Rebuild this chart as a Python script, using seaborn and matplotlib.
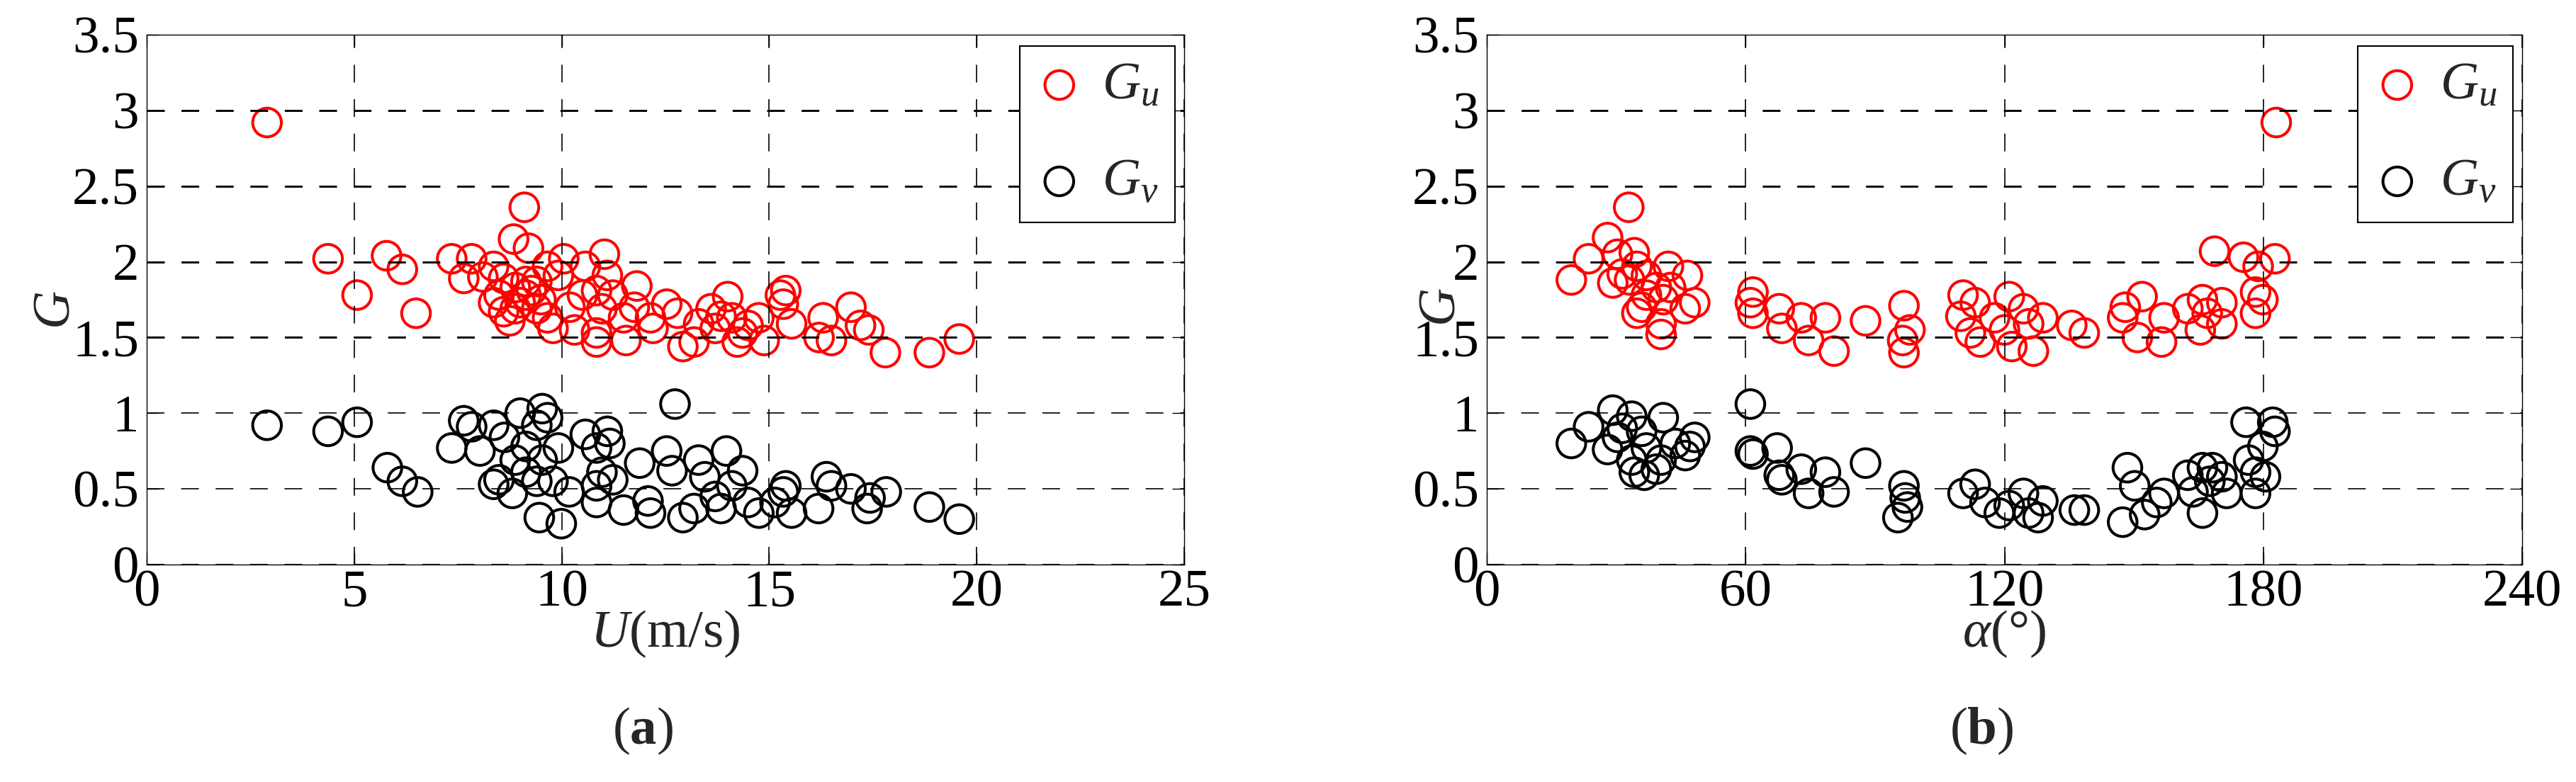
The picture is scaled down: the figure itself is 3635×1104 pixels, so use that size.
import matplotlib
matplotlib.use("Agg")
import matplotlib.pyplot as plt
import matplotlib.ticker as mticker
import seaborn as sns

# ---- values ----
# (a) G_u against wind speed U
u_red = [2.9, 4.37, 5.78, 6.16, 5.07, 6.49, 7.35, 7.83, 7.64, 8.1, 8.36, 8.6, 8.84, 9.1,
         9.2, 8.88, 9.14, 8.36, 8.75, 9.4, 9.66, 10.05, 9.92, 9.4, 9.79, 9.66, 10.31, 10.57,
         11.03, 11.1, 10.84, 11.23, 10.97, 10.84, 10.84, 11.49, 11.55, 11.81, 11.75, 12.2,
         12.14, 12.53, 12.79, 12.92, 13.19, 13.3, 13.6, 13.7, 13.84, 14.0, 14.1, 14.36,
         14.23, 14.49, 14.75, 14.88, 15.27, 15.34, 15.4, 15.54, 16.3, 16.2, 16.5, 16.97,
         17.2, 17.4, 17.8, 18.86, 19.58, 8.49, 9.0, 9.27, 8.88, 9.14, 8.6, 9.5, 10.2, 10.5]
gu_a = [2.92, 2.02, 2.04, 1.95, 1.78, 1.66, 2.02, 2.02, 1.89, 1.90, 1.97, 1.89, 2.15, 2.36,
        2.09, 1.83, 1.78, 1.73, 1.61, 1.87, 1.97, 2.02, 1.91, 1.69, 1.56, 1.63, 1.55, 1.97,
        2.05, 1.91, 1.81, 1.78, 1.69, 1.47, 1.53, 1.63, 1.48, 1.84, 1.70, 1.56,
        1.63, 1.72, 1.66, 1.44, 1.47, 1.59, 1.69, 1.56, 1.64, 1.77, 1.63, 1.53,
        1.47, 1.58, 1.63, 1.48, 1.78, 1.72, 1.81, 1.59, 1.63, 1.50, 1.48, 1.70,
        1.58, 1.55, 1.40, 1.40, 1.49, 1.78, 1.73, 1.81, 1.69, 1.87, 1.67, 1.75, 1.70, 1.78]

# (a) G_v against wind speed U
u_black = [2.9, 4.37, 5.07, 5.8, 6.16, 6.53, 7.64, 7.83, 7.35, 8.03, 8.36, 8.62, 9.0, 9.53,
           9.66, 9.4, 9.14, 8.88, 8.49, 8.36, 8.81, 9.14, 9.53, 9.92, 9.79, 9.4, 9.46, 9.99,
           10.18, 10.57, 10.84, 11.1, 11.16, 10.97, 10.84, 10.84, 11.23, 11.49, 11.88, 12.08,
           12.14, 12.53, 12.66, 12.73, 12.92, 13.19, 13.3, 13.45, 13.7, 13.84, 13.97, 14.1,
           14.36, 14.49, 14.75, 15.14, 15.34, 15.4, 15.54, 16.19, 16.38, 16.5, 16.97, 17.36,
           17.43, 17.82, 18.86, 19.58]
gv_a = [0.92, 0.88, 0.94, 0.64, 0.55, 0.48, 0.95, 0.91, 0.77, 0.75, 0.92, 0.84, 1.00, 1.03,
        0.97, 0.92, 0.78, 0.69, 0.56, 0.53, 0.47, 0.61, 0.69, 0.77, 0.55, 0.55, 0.31, 0.27,
        0.48, 0.86, 0.77, 0.88, 0.80, 0.61, 0.52, 0.41, 0.56, 0.36, 0.67, 0.42,
        0.34, 0.75, 0.62, 1.06, 0.31, 0.37, 0.69, 0.58, 0.45, 0.37, 0.75, 0.52,
        0.62, 0.41, 0.34, 0.41, 0.48, 0.52, 0.34, 0.37, 0.58, 0.52, 0.50, 0.37,
        0.44, 0.48, 0.38, 0.30]

# (b) G_u against wind direction alpha
a_red = [32.9, 28.0, 23.6, 19.6, 30.3, 34.2, 34.8, 31.4, 29.2, 33.1, 37.0, 42.1, 39.3, 46.5,
         48.2, 42.6, 35.9, 40.9, 34.8, 40.4, 40.4, 46.0, 37.0, 61.7, 61.1, 61.7, 67.8, 68.4,
         72.9, 74.6, 78.5, 80.5, 87.8, 96.7, 96.4, 98.1, 96.7, 110.4, 113.2, 109.9, 112.1,
         114.4, 117.7, 121.1, 120.0, 121.7, 124.4, 125.6, 126.7, 128.9, 135.6, 138.5, 148.0,
         151.9, 147.4, 150.8, 157.0, 156.4, 162.5, 165.9, 167.0, 165.4, 170.4, 170.4, 168.7,
         175.4, 178.8, 182.7, 178.2, 179.9, 178.2, 183.0]
gu_b = [2.36, 2.16, 2.02, 1.88, 2.05, 2.06, 1.97, 1.92, 1.86, 1.88, 1.91, 1.97, 1.83, 1.91,
        1.73, 1.83, 1.70, 1.75, 1.66, 1.59, 1.52, 1.69, 1.78, 1.80, 1.73, 1.66, 1.69, 1.56,
        1.63, 1.48, 1.63, 1.41, 1.61, 1.71, 1.48, 1.55, 1.40, 1.78, 1.73, 1.64, 1.53,
        1.47, 1.63, 1.77, 1.55, 1.44, 1.69, 1.59, 1.41, 1.63, 1.58, 1.53, 1.70,
        1.77, 1.63, 1.50, 1.63, 1.47, 1.69, 1.75, 1.66, 1.55, 1.59, 1.73, 2.07,
        2.03, 1.97, 2.02, 1.80, 1.75, 1.66, 2.92]

# (b) G_v against wind direction alpha
a_black = [19.6, 23.6, 29.2, 33.6, 40.9, 31.4, 28.0, 30.3, 35.9, 37.0, 34.2, 36.5, 39.3, 33.6,
           40.4, 47.1, 48.2, 46.0, 43.7, 61.1, 61.7, 61.1, 67.3, 67.8, 68.4, 72.9, 74.6, 78.5,
           80.5, 87.8, 96.7, 97.0, 95.3, 97.5, 110.4, 113.2, 115.5, 118.8, 121.1, 124.4, 125.6,
           127.8, 128.9, 136.2, 138.5, 147.4, 148.5, 150.2, 152.5, 157.0, 155.3, 162.5, 165.9,
           167.6, 165.9, 163.7, 170.4, 168.2, 171.5, 176.0, 182.2, 182.7, 179.9, 178.2, 180.5,
           178.2, 176.6]
gv_b = [0.80, 0.91, 1.02, 0.98, 0.97, 0.90, 0.76, 0.84, 0.88, 0.77, 0.61, 0.59, 0.63, 0.69,
        0.69, 0.78, 0.84, 0.72, 0.80, 1.06, 0.73, 0.75, 0.77, 0.59, 0.56, 0.63, 0.47, 0.61,
        0.48, 0.67, 0.52, 0.44, 0.31, 0.38, 0.47, 0.53, 0.41, 0.34, 0.39, 0.47, 0.34,
        0.31, 0.42, 0.36, 0.36, 0.28, 0.64, 0.52, 0.33, 0.47, 0.41, 0.59, 0.64,
        0.55, 0.34, 0.48, 0.58, 0.64, 0.47, 0.94, 0.94, 0.88, 0.78, 0.61, 0.58,
        0.47, 0.69]

y_ticks = [0, 0.5, 1, 1.5, 2, 2.5, 3, 3.5]

FS = 54          # font size, pt
MS = 850         # marker area, pt^2

sns.set_style("white")
plt.rcParams["font.family"] = ["Liberation Serif", "DejaVu Serif"]
plt.rcParams["mathtext.fontset"] = "custom"
plt.rcParams["mathtext.rm"] = "Liberation Serif"
plt.rcParams["mathtext.it"] = "Liberation Serif:italic"
plt.rcParams["mathtext.bf"] = "Liberation Serif:bold"
plt.rcParams["lines.scale_dashes"] = False


def panel(ax, xr, yr, xb, yb, xmax, xstep, xlabel):
    sns.scatterplot(x=xr, y=yr, ax=ax, marker="o", s=MS, facecolors="none",
                    edgecolor="red", linewidth=2.9, label=r"$G_u$", zorder=2)
    sns.scatterplot(x=xb, y=yb, ax=ax, marker="o", s=MS, facecolors="none",
                    edgecolor="black", linewidth=2.9, label=r"$G_v$", zorder=2)

    ax.set_xlim(0, xmax)
    ax.set_ylim(0, 3.5)
    ax.set_xticks(range(0, xmax + 1, xstep))
    ax.set_yticks(y_ticks)
    ax.yaxis.set_major_formatter(mticker.FormatStrFormatter("%g"))

    ax.grid(True, color="black", linestyle=(0, (18, 17)), linewidth=1.2)
    ax.set_axisbelow(False)
    # the original raster shows the upper horizontal grid lines heavier
    for i, gl in enumerate(ax.get_ygridlines()):
        if 3 <= i <= 6:
            gl.set_linewidth(2.1)

    for sp in ax.spines.values():
        sp.set_color("black")
        sp.set_linewidth(1.0)
    ax.tick_params(direction="in", length=12, width=1, colors="black",
                   bottom=True, left=True, top=True, right=True, labelsize=FS)
    ax.tick_params(axis="x", pad=5)
    ax.tick_params(axis="y", pad=8)

    ax.set_xlabel(xlabel, fontsize=FS, labelpad=-9)
    ax.set_ylabel(r"$G$", fontsize=FS)

    leg = ax.legend(loc="upper right", bbox_to_anchor=(0.991, 0.979), fontsize=FS,
                    frameon=True, fancybox=False, edgecolor="black", framealpha=1,
                    borderpad=0.3, handlelength=0.9, handletextpad=0.35,
                    labelspacing=0.9, borderaxespad=0)
    leg.get_frame().set_linewidth(1.5)


W, H = 3635, 1104
fig = plt.figure(figsize=(W / 100, H / 100), dpi=100)
ax1 = fig.add_axes([207 / W, 307 / H, 1464 / W, 748 / H])
ax2 = fig.add_axes([2098 / W, 307 / H, 1461 / W, 748 / H])

panel(ax1, u_red, gu_a, u_black, gv_a, 25, 5, r"$U$(m/s)")
panel(ax2, a_red, gu_b, a_black, gv_b, 240, 60, r"$\alpha$(°)")

ax1.yaxis.set_label_coords(-0.064, 0.48)
ax2.yaxis.set_label_coords(-0.02, 0.485)

fig.text(907 / W, 1 - 1032 / H, r"($\mathbf{a}$)", fontsize=FS, ha="center", va="center")
fig.text(2796 / W, 1 - 1032 / H, r"($\mathbf{b}$)", fontsize=FS, ha="center", va="center")

fig.savefig("out.png", dpi=100)
